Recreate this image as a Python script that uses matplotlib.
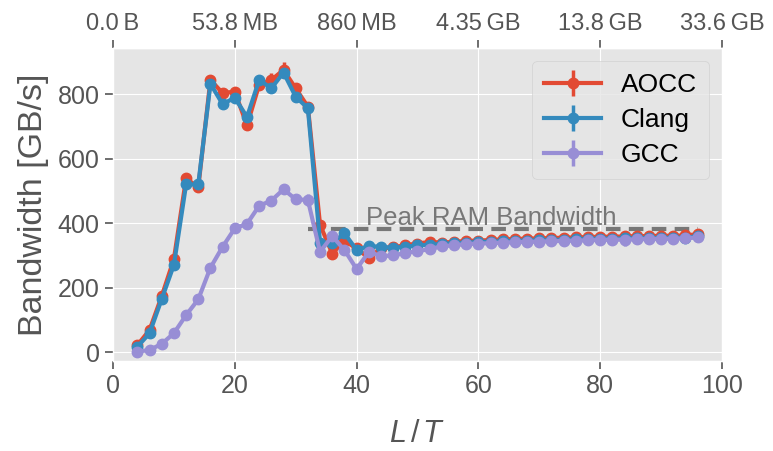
import matplotlib
matplotlib.use("Agg")
import matplotlib.pyplot as plt
import numpy as np

# ---- data ----
L_over_T = list(range(4, 97, 2))

aocc = [22, 69, 174, 289, 539, 511, 844, 803, 808, 703, 829, 844, 875, 818, 761,
        395, 306, 345, 322, 292, 322, 325, 332, 337, 342, 340, 342, 345, 346, 348,
        350, 351, 352, 353, 354, 355, 356, 357, 358, 358, 359, 360, 360, 361, 361,
        362, 366]
aocc_err = [4, 4, 5, 5, 6, 6, 6, 8, 6, 6, 8, 22, 25, 12, 6,
            10, 6, 4, 3, 3, 3, 3, 3, 3, 3, 3, 3, 3, 3, 3,
            3, 3, 3, 3, 3, 3, 3, 3, 3, 3, 3, 3, 3, 3, 3,
            3, 3]

clang = [17, 59, 165, 271, 520, 520, 832, 769, 789, 729, 844, 818, 867, 792, 756,
         340, 338, 369, 317, 329, 327, 324, 327, 331, 333, 336, 338, 340, 341, 343,
         344, 345, 346, 347, 348, 349, 350, 351, 352, 352, 353, 353, 354, 354, 355,
         355, 360]
clang_err = [3] * len(clang)

gcc = [2, 7, 26, 59, 115, 164, 262, 327, 384, 398, 454, 470, 505, 474, 472,
       311, 360, 317, 258, 311, 298, 300, 308, 313, 320, 328, 332, 335, 337, 338,
       340, 341, 342, 343, 344, 345, 346, 347, 348, 349, 349, 350, 351, 351, 352,
       353, 356]
gcc_err = [2, 2, 3, 3, 4, 4, 5, 5, 5, 5, 5, 5, 6, 6, 20,
           4, 4, 3, 3, 3, 3, 3, 3, 3, 3, 3, 3, 3, 3, 3,
           3, 3, 3, 3, 3, 3, 3, 3, 3, 3, 20, 3, 3, 3, 3,
           3, 3]

peak_ram = 381
peak_range = [32, 96]

top_ticks = [0, 20, 40, 60, 80, 100]
top_labels = ["0.0\u2009B", "53.8\u2009MB", "860\u2009MB", "4.35\u2009GB",
              "13.8\u2009GB", "33.6\u2009GB"]

# ---- style ----
plt.style.use("ggplot")
plt.rcParams["font.family"] = ["Liberation Sans", "DejaVu Sans"]
plt.rcParams["mathtext.fontset"] = "custom"
plt.rcParams["mathtext.it"] = "Liberation Sans:italic"
plt.rcParams["mathtext.rm"] = "Liberation Sans"

fig = plt.figure(figsize=(7.73, 4.51), dpi=100)
ax = fig.add_axes([0.1462, 0.1996, 0.934 - 0.1462, 0.8936 - 0.1996])

series = [("AOCC", aocc, aocc_err, "#E24A33"),
          ("Clang", clang, clang_err, "#348ABD"),
          ("GCC", gcc, gcc_err, "#988ED5")]
for name, vals, err, col in series:
    ax.errorbar(L_over_T, vals, yerr=err, color=col, lw=3, marker="o",
                markersize=7.5, elinewidth=2.5, capsize=0, label=name)

ax.hlines(peak_ram, peak_range[0], peak_range[1], colors="#777777",
          linestyles=(0, (3.5, 2)), lw=3, zorder=1)
ax.text(41.5, peak_ram + 13, "Peak RAM Bandwidth", color="#777777",
        fontsize=18.5, ha="left", va="baseline")

ax.set_xlim(0, 100)
ax.set_ylim(-27, 943)
ax.set_xticks([0, 20, 40, 60, 80, 100])
ax.set_yticks([0, 200, 400, 600, 800])
ax.tick_params(axis="both", labelsize=18, colors="#555555", length=6, width=1.2)
ax.set_xlabel("$L\\,/\\,T$", fontsize=22, color="#555555", labelpad=15)
ax.set_ylabel("Bandwidth [GB/s]", fontsize=24.5, color="#555555", labelpad=6)

top = ax.secondary_xaxis("top")
top.set_xticks(top_ticks)
top.set_xticklabels(top_labels)
top.tick_params(labelsize=17, colors="#555555", length=6, width=1.2)

leg = ax.legend(loc="upper right", fontsize=19, handlelength=2.15,
                handletextpad=0.75, frameon=True, facecolor="#E5E5E5",
                edgecolor="#CCCCCC", borderpad=0.45, labelspacing=0.42,
                borderaxespad=0.5)
for t in leg.get_texts():
    t.set_color("black")

fig.savefig("out.png", dpi=100)
